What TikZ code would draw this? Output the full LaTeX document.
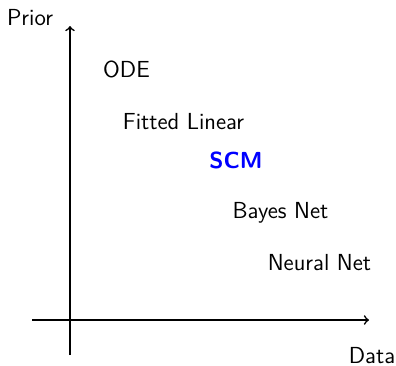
\documentclass[tikz,border=0pt]{standalone}
\renewcommand{\familydefault}{\sfdefault}
\begin{document}
\begin{tikzpicture}[x=0.5pt,y=-0.5pt,
  axis/.style={line width=0.8pt},
  lbl/.style={inner sep=0pt, anchor=base, font=\sffamily\fontsize{11.6}{14}\selectfont},
  model/.style={lbl}]
\useasboundingbox (0,0) rectangle (396,365);
% axes
\coordinate (ybot) at (70,355);
\coordinate (ytop) at (70,26);
\coordinate (xleft) at (32,320);
\coordinate (xright) at (369,320);
\draw[axis,->] (ybot) -- (ytop);
\draw[axis,->] (xleft) -- (xright);
% axis labels
\node[lbl] (prior) at (30,25) {Prior};
\node[lbl] (data) at (372,363) {Data};
% models
\node[model] (ode) at (126.5,77) {ODE};
\node[model] (fitted) at (183.5,129) {Fitted Linear};
\node[model, font=\sffamily\bfseries\fontsize{11.6}{14}\selectfont, text=blue] (scm) at (236,168) {SCM};
\node[model] (bayes) at (280.5,218) {Bayes Net};
\node[model] (neural) at (319.5,270) {Neural Net};
\end{tikzpicture}
\end{document}
